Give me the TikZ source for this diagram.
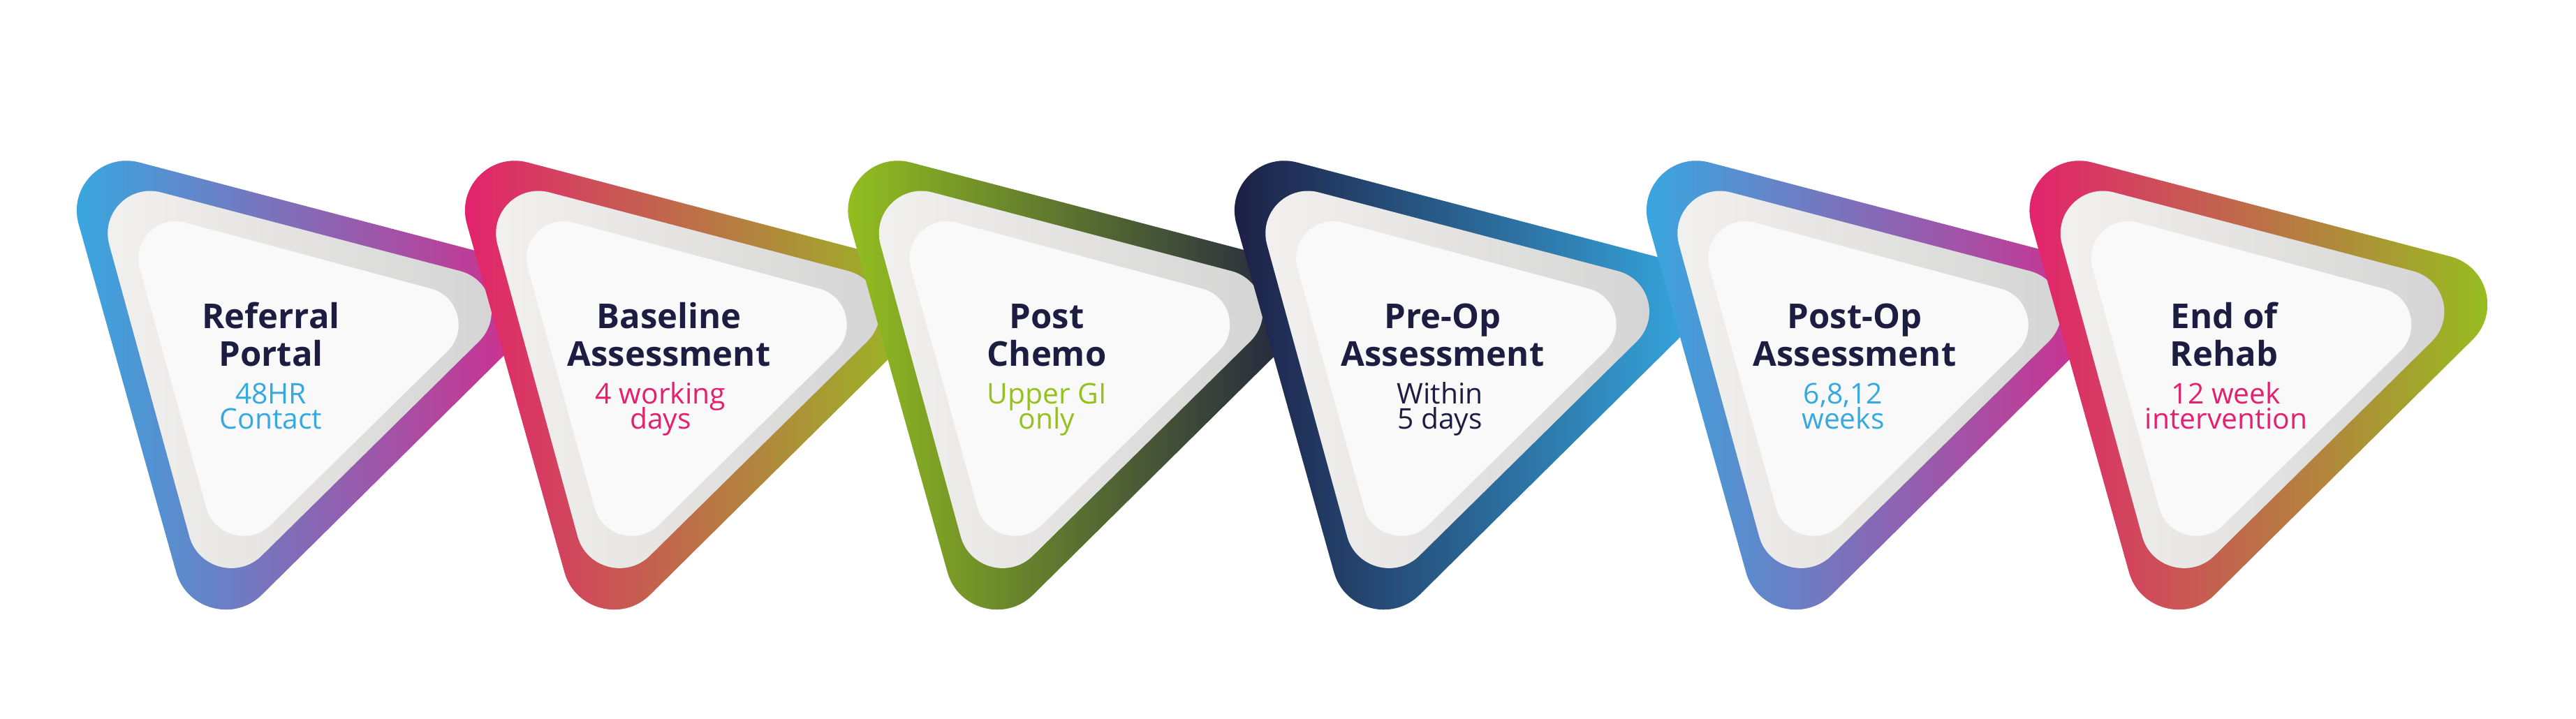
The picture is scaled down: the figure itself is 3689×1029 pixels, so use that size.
\documentclass[tikz,border=0pt]{standalone}
\usepackage{fontspec}
\setmainfont{Open Sans}
\usetikzlibrary{calc}
\definecolor{navy}{HTML}{1D1D42}
\definecolor{cblue}{HTML}{36A9E1}
\definecolor{cmag}{HTML}{D8288A}
\definecolor{cpink}{HTML}{E4206F}
\definecolor{cgreen}{HTML}{95C11F}
\definecolor{graylt}{HTML}{F2F1EF}
\definecolor{graydk}{HTML}{D4D4D4}
\definecolor{corefill}{HTML}{F9F9F9}
% rounded triangle: vertices #1 #2 #3, tangent distance #4, control distance #5
\newcommand\rtri[5]{($(#1)!#4!(#2)$) -- ($(#2)!#4!(#1)$)
  .. controls ($(#2)!#5!(#1)$) and ($(#2)!#5!(#3)$) .. ($(#2)!#4!(#3)$)
  -- ($(#3)!#4!(#2)$)
  .. controls ($(#3)!#5!(#2)$) and ($(#3)!#5!(#1)$) .. ($(#3)!#4!(#1)$)
  -- ($(#1)!#4!(#3)$)
  .. controls ($(#1)!#5!(#3)$) and ($(#1)!#5!(#2)$) .. ($(#1)!#4!(#2)$) -- cycle}
\newcommand\stagebadge[3]{%
  \begin{scope}[xshift=#1pt]
    \shade[left color=#2,right color=#3] \rtri{79,201}{833,399}{286,940}{124.7pt}{69.3pt};
    \shade[left color=graylt,right color=graydk] \rtri{128.5,248.7}{761,415.1}{299.2,870.4}{105.7pt}{58.7pt};
    \fill[corefill] \rtri{175,294.6}{707.3,437.7}{320.6,817.7}{93.5pt}{52pt};
  \end{scope}}
\tikzset{
  ttl/.style={font=\fontsize{49}{54}\selectfont\bfseries, text=navy, anchor=base, inner sep=0pt},
  subtxt/.style={font=\fontsize{40.8}{41}\selectfont, anchor=base, inner sep=0pt}
}
\begin{document}
\begin{tikzpicture}[x=1pt,y=-1pt]
\useasboundingbox (0,0) rectangle (3689,1029);
\fill[white] (0,0) rectangle (3689,1029);
% 1
\stagebadge{0}{cblue}{cmag}
\node[ttl] (t1a) at (388,470) {Referral};
\node[ttl] (t1b) at (388,524) {Portal};
\node[subtxt,text=cblue] (s1a) at (388,578) {48HR};
\node[subtxt,text=cblue] (s1b) at (388,614) {Contact};
% 2
\stagebadge{556}{cpink}{cgreen}
\node[ttl] (t2a) at (958,470) {Baseline};
\node[ttl] (t2b) at (958,524) {Assessment};
\node[subtxt,text=cpink] (s2a) at (946,578) {4 working};
\node[subtxt,text=cpink] (s2b) at (946,614) {days};
% 3
\stagebadge{1104.5}{cgreen}{navy}
\node[ttl] (t3a) at (1499,470) {Post};
\node[ttl] (t3b) at (1499,524) {Chemo};
\node[subtxt,text=cgreen] (s3a) at (1499,578) {Upper GI};
\node[subtxt,text=cgreen] (s3b) at (1499,614) {only};
% 4
\stagebadge{1658}{navy}{cblue}
\node[ttl] (t4a) at (2066,470) {Pre-Op};
\node[ttl] (t4b) at (2066,524) {Assessment};
\node[subtxt,text=navy] (s4a) at (2062,578) {Within};
\node[subtxt,text=navy] (s4b) at (2062,614) {5 days};
% 5
\stagebadge{2248}{cblue}{cmag}
\node[ttl] (t5a) at (2656,470) {Post-Op};
\node[ttl] (t5b) at (2656,524) {Assessment};
\node[subtxt,text=cblue] (s5a) at (2639.5,578) {6,8,12};
\node[subtxt,text=cblue] (s5b) at (2639.5,614) {weeks};
% 6
\stagebadge{2796.5}{cpink}{cgreen}
\node[ttl] (t6a) at (3185,470) {End of};
\node[ttl] (t6b) at (3185,524) {Rehab};
\node[subtxt,text=cpink] (s6a) at (3188,578) {12 week};
\node[subtxt,text=cpink] (s6b) at (3188,614) {intervention};
\end{tikzpicture}
\end{document}
